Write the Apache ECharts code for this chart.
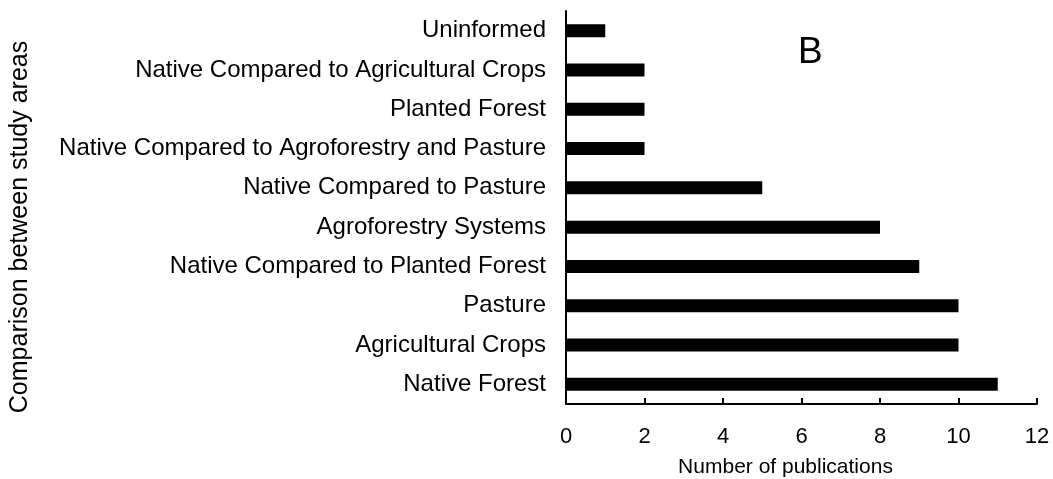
<!DOCTYPE html>
<html>
<head>
<meta charset="utf-8">
<script src="https://cdn.jsdelivr.net/npm/echarts@6/dist/echarts.min.js"></script>
<style>
  html, body { margin: 0; padding: 0; background: #fff; }
  #chart { width: 1053px; height: 479px; }
</style>
</head>
<body>
<div id="chart"></div>
<script>
// Study-area comparisons, listed top to bottom
const categories = [
  'Uninformed',
  'Native Compared to Agricultural Crops',
  'Planted Forest',
  'Native Compared to Agroforestry and Pasture',
  'Native Compared to Pasture',
  'Agroforestry Systems',
  'Native Compared to Planted Forest',
  'Pasture',
  'Agricultural Crops',
  'Native Forest'
];
// Number of publications per comparison
const publications = [1, 2, 2, 2, 5, 8, 9, 10, 10, 11];
const xTicks = [0, 2, 4, 6, 8, 10, 12];

const font = 'Liberation Sans, Arial, sans-serif';
const chart = echarts.init(document.getElementById('chart'));
chart.setOption({
  animation: false,
  backgroundColor: '#fff',
  grid: {
    left: 566, right: 16, top: 11, bottom: 75,
    containLabel: false, outerBoundsMode: 'none'
  },
  title: {
    text: 'B', left: 793, top: 29,
    textStyle: { fontFamily: font, fontSize: 37, fontWeight: 'normal', color: '#000' }
  },
  xAxis: {
    type: 'value',
    min: xTicks[0], max: xTicks[xTicks.length - 1], interval: 2,
    name: 'Number of publications',
    nameLocation: 'middle', nameGap: 53,
    nameTextStyle: { fontFamily: font, fontSize: 21, color: '#000', padding: [0, 32, 0, 0] },
    axisLine: { show: true, lineStyle: { color: '#000', width: 2 } },
    axisTick: { show: true, inside: true, length: 6, lineStyle: { color: '#000', width: 2 } },
    axisLabel: { fontFamily: font, fontSize: 22, color: '#000', margin: 22 },
    splitLine: { show: false }
  },
  yAxis: {
    type: 'category',
    data: categories,
    inverse: true,
    name: 'Comparison between study areas',
    nameLocation: 'middle', nameGap: 533, nameRotate: 90,
    nameTextStyle: { fontFamily: font, fontSize: 25, color: '#000', padding: [0, 39, 0, 0] },
    axisLine: { show: true, lineStyle: { color: '#000', width: 2 } },
    axisTick: { show: false },
    axisLabel: { fontFamily: font, fontSize: 24, color: '#000', margin: 20, padding: [3, 0, 0, 0] }
  },
  series: [{
    type: 'bar',
    data: publications,
    barWidth: 13,
    itemStyle: { color: '#000' }
  }]
});
</script>
</body>
</html>
